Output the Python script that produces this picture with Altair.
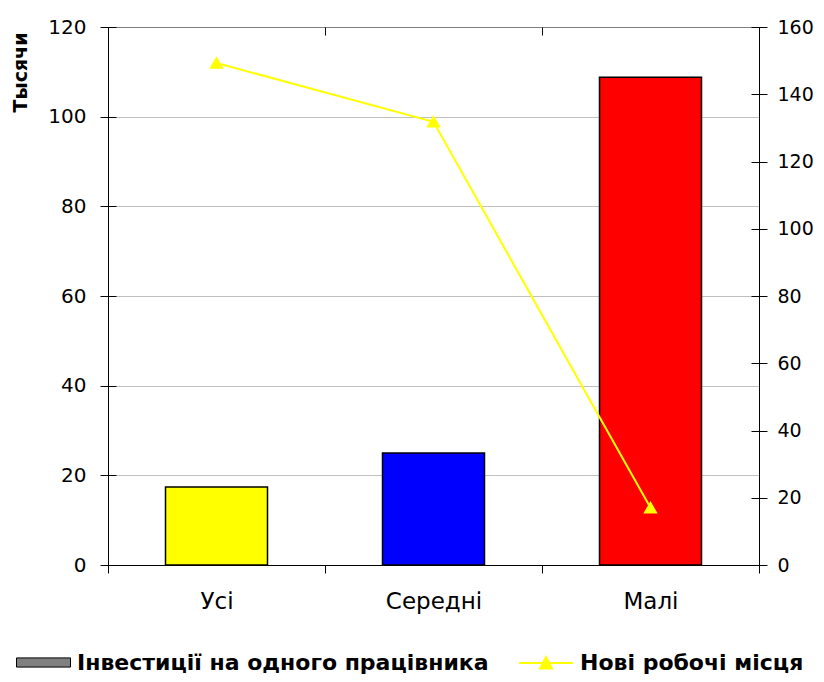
import altair as alt
import pandas as pd

categories = ["Усі", "Середні", "Малі"]
investment = [17.4, 25.0, 108.8]
new_jobs = [149.3, 131.8, 17.0]
bar_colors = ["#FFFF00", "#0000FF", "#FF0000"]
series_names = ["Інвестиції на одного працівника", "Нові робочі місця"]
left_ticks = [0, 20, 40, 60, 80, 100, 120]
right_ticks = [0, 20, 40, 60, 80, 100, 120, 140, 160]

bars_df = pd.DataFrame({"cat": categories, "value": investment, "series": series_names[0]})
line_df = pd.DataFrame({"cat": categories, "value": new_jobs, "series": series_names[1]})

FONT = "DejaVu Sans"
x_scale = alt.Scale(domain=categories, paddingInner=0, paddingOuter=0)
left_scale = alt.Scale(domain=[0, 120], nice=False)
right_scale = alt.Scale(domain=[0, 160], nice=False)

RECT = "M-1,-0.17H1V0.17H-1Z"
LINE = "M-1,0H1M-0.22,0.2L0,-0.22L0.22,0.2Z"

legend_common = dict(
    title=None, orient="none", direction="horizontal", symbolSize=2916,
    labelFont=FONT, labelFontSize=22, labelFontWeight="bold", labelColor="black",
    labelOffset=6, labelLimit=0,
)
legend_bar = alt.Legend(legendX=-92, legendY=608, symbolType=RECT,
                        symbolFillColor="#808080", symbolStrokeColor="black",
                        symbolStrokeWidth=1, **legend_common)
legend_line = alt.Legend(legendX=410, legendY=608, symbolType=LINE,
                         symbolFillColor="#FFFF00", symbolStrokeColor="#FFFF00",
                         symbolStrokeWidth=2, **legend_common)

grid_color = {"condition": {"test": "datum.value === 120", "value": "#808080"}, "value": "#c0c0c0"}

bars = alt.Chart(bars_df).mark_bar(width=102, strokeWidth=1.5).encode(
    x=alt.X("cat:N", scale=x_scale, sort=categories, title=None,
            axis=alt.Axis(labelAngle=0, labelFont=FONT, labelFontSize=23, labelColor="black",
                          labelPadding=17, tickBand="extent", tickSize=8, tickColor="black",
                          domainColor="black", grid=False)),
    y=alt.Y("value:Q", scale=left_scale, title="Тысячи",
            axis=alt.Axis(orient="left", values=left_ticks, labelFont=FONT, labelFontSize=20,
                          labelColor="black", labelPadding=14, tickSize=8, tickColor="black",
                          domainColor="black", grid=True, gridColor=grid_color,
                          titleX=-88, titleY=45, titleFont=FONT, titleFontSize=19,
                          titleFontWeight="bold", titleColor="black", titleAlign="center",
                          titleBaseline="middle", titleAngle=270)),
    fill=alt.Fill("cat:N", scale=alt.Scale(domain=categories, range=bar_colors), legend=None),
    stroke=alt.Stroke("series:N", scale=alt.Scale(domain=[series_names[0]], range=["#000000"]),
                      legend=legend_bar),
)

line = alt.Chart(line_df).mark_line(
    strokeWidth=2,
    point=alt.OverlayMarkDef(shape="triangle-up", filled=True, fill="#FFFF00", size=120),
).encode(
    x=alt.X("cat:N", scale=x_scale, sort=categories, axis=None),
    y=alt.Y("value:Q", scale=right_scale,
            axis=alt.Axis(orient="right", values=right_ticks, title=None, labelFont=FONT,
                          labelFontSize=19, labelColor="black", labelPadding=10, tickSize=8,
                          tickColor="black", domainColor="black", grid=False)),
    stroke=alt.Stroke("series:N", scale=alt.Scale(domain=[series_names[1]], range=["#FFFF00"]),
                      legend=legend_line),
)

inner_left = alt.Chart(bars_df).mark_bar(opacity=0).encode(
    x=alt.X("cat:N", scale=x_scale, sort=categories,
            axis=alt.Axis(offset=-8, tickSize=8, labels=False, domain=False, tickBand="extent",
                          grid=False, tickColor="black", title=None)),
    y=alt.Y("value:Q", scale=left_scale,
            axis=alt.Axis(orient="left", offset=-8, tickSize=8, labels=False, domain=False,
                          grid=False, values=left_ticks, title=None, tickColor="black")),
)

inner_right = alt.Chart(line_df).mark_line(opacity=0).encode(
    x=alt.X("cat:N", scale=x_scale, sort=categories, axis=None),
    y=alt.Y("value:Q", scale=right_scale,
            axis=alt.Axis(orient="right", offset=-8, tickSize=8, labels=False, domain=False,
                          grid=False, values=right_ticks, title=None, tickColor="black")),
)

chart = alt.layer(bars, line, inner_left, inner_right).resolve_scale(
    y="independent", stroke="independent"
).resolve_axis(
    y="independent", x="independent"
).resolve_legend(
    stroke="independent"
).properties(
    width=651, height=538,
    autosize=alt.AutoSizeParams(type="none"),
    padding={"left": 100, "top": 19, "right": 57, "bottom": 109},
).configure_view(strokeWidth=0)

chart.save("out.html", embed_options={"renderer": "svg", "actions": False})
